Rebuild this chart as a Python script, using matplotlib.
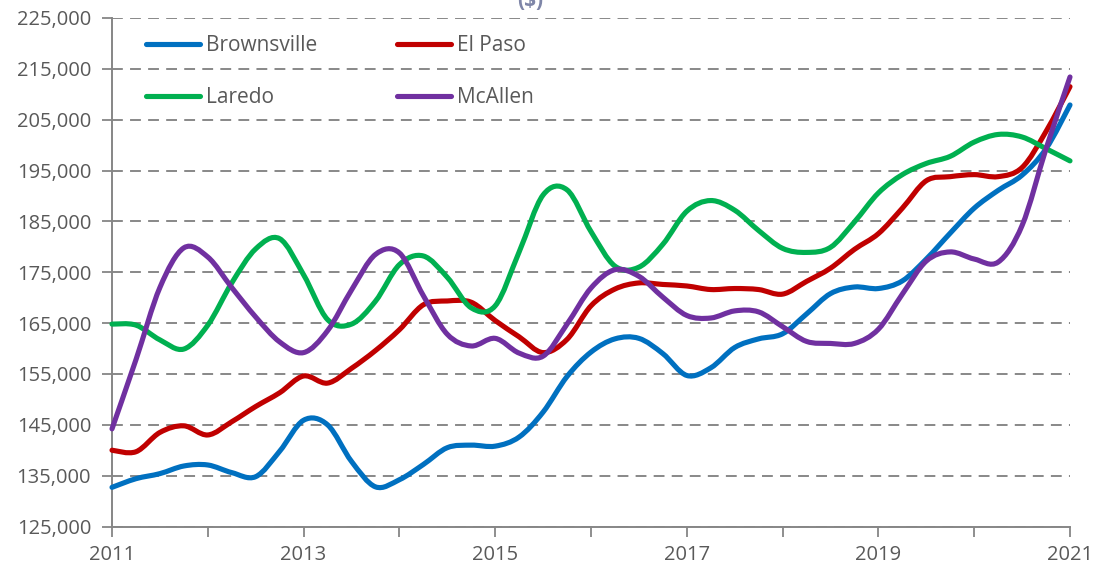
import numpy as np
import matplotlib
matplotlib.use("Agg")
import matplotlib.pyplot as plt
from matplotlib.path import Path
from matplotlib.patches import PathPatch
from matplotlib.lines import Line2D
from matplotlib.ticker import FuncFormatter

plt.rcParams['font.family'] = ['Open Sans', 'DejaVu Sans']

# Quarterly observations, 2011Q1 .. 2021Q1
quarters = np.arange(2011.0, 2021.001, 0.25)

brownsville = [132.7, 134.4, 135.4, 136.9, 137.1, 135.6, 134.8, 139.8, 145.9, 145.0,
               137.8, 132.8, 134.2, 137.2, 140.5, 141.0, 140.8, 142.6, 147.5, 154.5,
               159.3, 161.9, 162.0, 159.0, 154.7, 156.2, 160.2, 161.9, 162.9, 166.8,
               170.8, 172.1, 171.8, 173.3, 177.6, 182.7, 187.6, 191.1, 194.1, 199.3,
               207.9]
el_paso = [140.0, 139.7, 143.5, 144.8, 143.0, 145.6, 148.6, 151.3, 154.6, 153.2,
           156.1, 159.6, 163.7, 168.6, 169.35, 169.1, 165.5, 162.3, 159.2, 161.8,
           168.4, 171.7, 172.9, 172.6, 172.3, 171.6, 171.8, 171.6, 170.7, 173.2,
           175.8, 179.5, 182.6, 187.6, 193.0, 193.8, 194.2, 193.8, 195.6, 202.7,
           211.5]
laredo = [164.8, 164.6, 161.7, 159.9, 164.6, 172.9, 179.6, 181.6, 174.5, 165.7,
          164.8, 169.3, 176.5, 178.2, 174.0, 168.0, 168.4, 179.0, 190.2, 191.2,
          183.0, 176.2, 176.0, 180.5, 187.0, 189.1, 187.2, 183.2, 179.7, 178.9,
          179.9, 184.9, 190.6, 194.2, 196.4, 197.8, 200.6, 202.1, 201.6, 199.3,
          196.9]
mcallen = [144.2, 157.8, 172.0, 179.8, 178.0, 172.0, 166.2, 161.3, 159.2, 163.5,
           171.5, 178.5, 178.8, 170.4, 162.8, 160.5, 162.0, 159.1, 158.5, 164.8,
           171.9, 175.5, 174.2, 170.1, 166.5, 166.0, 167.4, 167.2, 164.3, 161.4,
           161.0, 161.0, 163.8, 170.7, 177.2, 179.0, 177.6, 177.0, 184.2, 199.3,
           213.4]

series_names = ['Brownsville', 'El Paso', 'Laredo', 'McAllen']
series_vals = [brownsville, el_paso, laredo, mcallen]
series_colors = ['#0070C0', '#C00000', '#00B050', '#7030A0']

y_ticks = [125000, 135000, 145000, 155000, 165000, 175000, 185000, 195000,
           205000, 215000, 225000]
x_ticks = list(range(2011, 2022))
x_labels = ['2011', '', '2013', '', '2015', '', '2017', '', '2019', '', '2021']

TXT = '#595959'
AX = '#868686'


def smooth_path(x, y):
    """Excel-style smoothed line: cubic Bezier segments with Catmull-Rom tangents."""
    pts = np.column_stack([x, y])
    n = len(pts)
    verts = [pts[0]]
    codes = [Path.MOVETO]
    for i in range(n - 1):
        p0 = pts[i - 1] if i > 0 else pts[i]
        p1 = pts[i]
        p2 = pts[i + 1]
        p3 = pts[i + 2] if i + 2 < n else pts[i + 1]
        c1 = p1 + (p2 - p0) / 6.0
        c2 = p2 - (p3 - p1) / 6.0
        verts += [c1, c2, p2]
        codes += [Path.CURVE4] * 3
    return Path(verts, codes)


fig = plt.figure(figsize=(11, 5.71), dpi=100)
ax = fig.add_axes([112 / 1100, 1 - 526.5 / 571, (1070 - 112) / 1100, (526.5 - 18) / 571])

for name, vals, col in zip(series_names, series_vals, series_colors):
    yv = np.asarray(vals) * 1000.0
    patch = PathPatch(smooth_path(quarters, yv), facecolor='none', edgecolor=col,
                      lw=3.7, capstyle='round', joinstyle='round', zorder=3,
                      clip_on=False)
    ax.add_patch(patch)

ax.set_xlim(2011, 2021)
ax.set_ylim(125000, 225000)
ax.set_yticks(y_ticks)
ax.yaxis.set_major_formatter(FuncFormatter(lambda v, p: f"{int(v):,}"))
ax.set_xticks(x_ticks)
ax.set_xticklabels(x_labels)

for s in ['top', 'right']:
    ax.spines[s].set_visible(False)
for s in ['left', 'bottom']:
    ax.spines[s].set_color(AX)
    ax.spines[s].set_linewidth(1.4)

ax.grid(axis='y', color='#7f7f7f', linestyle=(0, (6, 4)), linewidth=1.3, zorder=1)
ax.set_axisbelow(True)
ax.tick_params(axis='both', direction='out', length=7, width=1.3, color=AX,
               labelcolor=TXT, labelsize=14.5)
ax.tick_params(axis='y', pad=8)
ax.tick_params(axis='x', pad=6)

handles = [Line2D([0], [0], color=c, lw=3.7, solid_capstyle='round') for c in series_colors]
order = [0, 2, 1, 3]
leg = ax.legend([handles[i] for i in order], [series_names[i] for i in order],
                ncol=2, frameon=False, loc='upper left',
                bbox_to_anchor=(146 / 1100, 1 - 35 / 571), bbox_transform=fig.transFigure,
                fontsize=15, handlelength=2.6, handletextpad=0.3,
                columnspacing=3.8, labelspacing=1.5, borderpad=0, borderaxespad=0)
for t in leg.get_texts():
    t.set_color(TXT)

fig.text(530 / 1100, 1 - 1 / 571, '($)', ha='center', va='center', fontsize=15,
         fontweight='bold', color='#7f86a8')

fig.savefig('out.png', dpi=100)
